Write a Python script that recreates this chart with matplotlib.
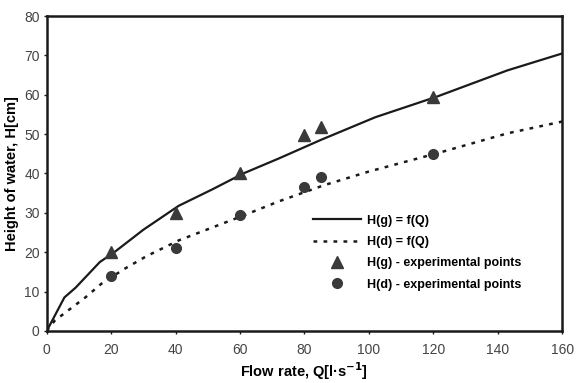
import matplotlib.pyplot as plt

# ---- Data ----
q_g_curve = [0, 1, 5.5, 9, 16.5, 21, 30, 41, 51.5, 61, 72, 85, 102, 121, 143, 160]
h_g_curve = [0, 1.5, 8.5, 11, 17.5, 20, 25.7, 31.8, 36, 40, 43.8, 48.5, 54.3, 59.5, 66.2, 70.5]

q_d_curve = [0, 2.5, 6.5, 12, 17, 24, 31, 41, 61, 72, 86, 100, 121, 143, 160]
h_d_curve = [0, 2.6, 5.1, 8.5, 12, 15.7, 19, 23, 29.3, 32.9, 37, 40.5, 45.1, 50.2, 53.2]

q_exp = [20, 40, 60, 80, 85, 120]
h_g_exp = [20, 30, 40, 49.8, 51.8, 59.5]
h_d_exp = [14, 21, 29.5, 36.5, 39.2, 45]

x_ticks = [0, 20, 40, 60, 80, 100, 120, 140, 160]
y_ticks = [0, 10, 20, 30, 40, 50, 60, 70, 80]

plt.rcParams['font.family'] = ['Liberation Sans', 'DejaVu Sans']

ink = '#1a1a1a'
mark = '#3a3a3a'
tick_col = '#444444'

fig = plt.figure(figsize=(5.76, 3.83), dpi=100)
ax = fig.add_axes([0.081, 0.136, 0.895, 0.822])

ax.plot(q_g_curve, h_g_curve, color=ink, lw=1.6, label='H(g) = f(Q)')
ax.plot(q_d_curve, h_d_curve, color=ink, lw=1.8, linestyle=(0, (1.5, 2.5)), label='H(d) = f(Q)')
ax.plot(q_exp, h_g_exp, linestyle='none', marker='^', ms=8, color=mark,
        label='H(g) - experimental points')
ax.plot(q_exp, h_d_exp, linestyle='none', marker='o', ms=7, color=mark,
        label='H(d) - experimental points')

ax.set_xlim(0, 160)
ax.set_ylim(0, 80)
ax.set_xticks(x_ticks)
ax.set_yticks(y_ticks)
ax.tick_params(labelsize=10, labelcolor=tick_col, color=ink, length=2, width=1)
ax.tick_params(axis='x', pad=7)
ax.tick_params(axis='y', pad=3)
for s in ax.spines.values():
    s.set_linewidth(1.8)
    s.set_color(ink)

ax.set_xlabel('Flow rate, Q[l·s$^{\\mathbf{-1}}$]', fontsize=10.5, fontweight='bold', labelpad=2)
ax.set_ylabel('Height of water, H[cm]', fontsize=10.5, fontweight='bold', labelpad=4)

ax.legend(loc='upper left', bbox_to_anchor=(0.495, 0.405), frameon=False,
          handlelength=3.8, numpoints=1, labelspacing=0.75, handletextpad=0.5,
          prop={'weight': 'bold', 'size': 9})

plt.savefig('out.png')
